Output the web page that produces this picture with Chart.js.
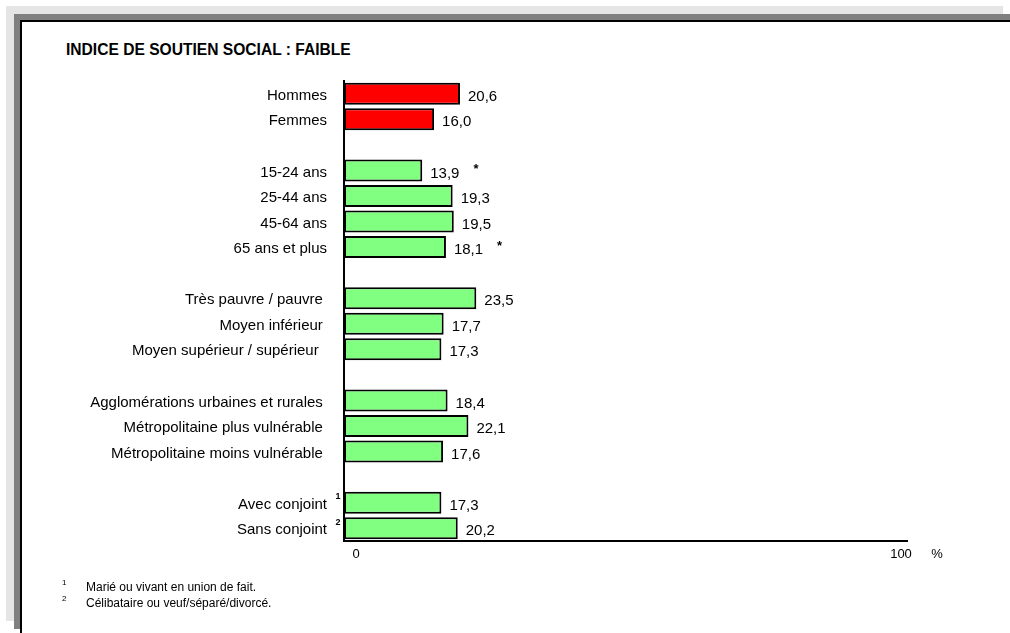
<!DOCTYPE html>
<html lang="fr">
<head>
    <meta charset="UTF-8">
    <title>Indice de soutien social : faible</title>
    <script src="https://cdn.jsdelivr.net/npm/chart.js"></script>
    <style>
        body {
            margin: 0;
            background-color: #ffffff;
            font-family: 'Liberation Sans', Arial, sans-serif;
            width: 1010px;
            height: 633px;
            overflow: hidden;
            position: relative;
        }
        .ombre-claire { position: absolute; left: 6px; top: 6px; width: 997px; height: 615px; background: #e5e5e5; }
        .ombre-foncee { position: absolute; left: 14px; top: 14px; width: 1000px; height: 615px; background: #808080; }
        .cadre { position: absolute; left: 20px; top: 20px; width: 1000px; height: 630px; background: #fff; border-top: 2px solid #000; border-left: 2px solid #000; }
        .titre { position: absolute; left: 66px; top: 41px; font-weight: bold; font-size: 15.6px; line-height: 18px; color: #000; }
        .note { position: absolute; left: 86px; font-size: 12px; line-height: 14px; color: #000; }
        .appel { position: absolute; left: 62px; font-size: 8px; line-height: 10px; color: #000; }
        canvas { position: absolute; left: 0; top: 0; }
    </style>
</head>
<body>
    <div class="ombre-claire"></div>
    <div class="ombre-foncee"></div>
    <div class="cadre"></div>
    <div class="titre">INDICE DE SOUTIEN SOCIAL : FAIBLE</div>

    <canvas id="graphique" width="1010" height="633"></canvas>

    <div class="appel" style="top: 578px;">1</div>
    <div class="note" style="top: 580px;">Marié ou vivant en union de fait.</div>
    <div class="appel" style="top: 594px;">2</div>
    <div class="note" style="top: 596px;">Célibataire ou veuf/séparé/divorcé.</div>

    <script>
        // Catégories (les chaînes vides sont les lignes de séparation)
        const categories = [
            'Hommes', 'Femmes', '',
            '15-24 ans', '25-44 ans', '45-64 ans', '65 ans et plus', '',
            'Très pauvre / pauvre ', 'Moyen inférieur ', 'Moyen supérieur / supérieur  ', '',
            'Agglomérations urbaines et rurales ', 'Métropolitaine plus vulnérable ', 'Métropolitaine moins vulnérable ', '',
            'Avec conjoint', 'Sans conjoint'
        ];
        const valeurs = [
            20.6, 16.0, null,
            13.9, 19.3, 19.5, 18.1, null,
            23.5, 17.7, 17.3, null,
            18.4, 22.1, 17.6, null,
            17.3, 20.2
        ];
        // astérisque : coefficient de variation élevé
        const asterisques = ['', '', '', '*', '', '', '*', '', '', '', '', '', '', '', '', '', '', ''];
        const appels = ['', '', '', '', '', '', '', '', '', '', '', '', '', '', '', '', '1', '2'];
        const categoriesSexe = ['Hommes', 'Femmes'];
        const ticksX = [0, 100];
        const uniteX = '%';

        const couleurs = categories.map(c => categoriesSexe.includes(c) ? '#ff0000' : '#80ff80');
        const formatFr = v => v.toFixed(1).replace('.', ',');

        Chart.defaults.font.family = "'Liberation Sans', Arial, sans-serif";
        Chart.defaults.font.size = 15;
        Chart.defaults.color = '#000';

        const etiquettes = {
            id: 'etiquettes',
            afterDatasetsDraw(chart) {
                const ctx = chart.ctx;
                const meta = chart.getDatasetMeta(0);
                const echelleY = chart.scales.y;
                ctx.save();
                ctx.fillStyle = '#000';
                ctx.textBaseline = 'middle';

                // libellés des catégories
                ctx.font = "15px 'Liberation Sans', Arial, sans-serif";
                ctx.textAlign = 'right';
                categories.forEach((c, i) => {
                    if (c) ctx.fillText(c, chart.chartArea.left - 17, echelleY.getPixelForValue(i) + 2);
                });

                meta.data.forEach((bar, i) => {
                    const v = valeurs[i];
                    if (v === null) return;
                    ctx.font = "15px 'Liberation Sans', Arial, sans-serif";
                    ctx.textAlign = 'left';
                    const texte = formatFr(v);
                    ctx.fillText(texte, bar.x + 8, bar.y + 3);
                    if (asterisques[i]) {
                        const w = ctx.measureText(texte).width;
                        ctx.font = "bold 13px 'Liberation Sans', Arial, sans-serif";
                        ctx.fillText(asterisques[i], bar.x + 8 + w + 14, bar.y - 1);
                    }
                    if (appels[i]) {
                        ctx.font = "bold 9px 'Liberation Sans', Arial, sans-serif";
                        ctx.textAlign = 'center';
                        ctx.fillText(appels[i], chart.chartArea.left - 6, bar.y - 6);
                    }
                });

                // étiquettes de l'axe horizontal
                const x = chart.scales.x;
                const y = chart.chartArea.bottom + 13;
                ctx.font = "13px 'Liberation Sans', Arial, sans-serif";
                ctx.textAlign = 'center';
                ctx.fillText(String(ticksX[0]), x.getPixelForValue(ticksX[0]) + 12, y);
                ctx.fillText(String(ticksX[1]), x.getPixelForValue(ticksX[1]) - 6, y);
                ctx.fillText(uniteX, x.getPixelForValue(ticksX[1]) + 30, y);
                ctx.restore();
            }
        };

        new Chart(document.getElementById('graphique'), {
            type: 'bar',
            data: {
                labels: categories,
                datasets: [{
                    data: valeurs,
                    backgroundColor: couleurs,
                    borderColor: '#000',
                    borderWidth: 2,
                    borderSkipped: false,
                    categoryPercentage: 1,
                    barPercentage: 0.86
                }]
            },
            options: {
                indexAxis: 'y',
                responsive: false,
                animation: false,
                layout: { padding: { left: 0, top: 81, right: 103, bottom: 92 } },
                plugins: {
                    legend: { display: false },
                    tooltip: { enabled: false }
                },
                scales: {
                    x: {
                        min: ticksX[0],
                        max: ticksX[1],
                        grid: { display: false, drawTicks: false },
                        border: { display: true, color: '#000', width: 2 },
                        ticks: { display: false },
                        afterFit(scale) { scale.height = 0; }
                    },
                    y: {
                        grid: { display: false, drawTicks: false },
                        border: { display: true, color: '#000', width: 2 },
                        ticks: { display: false },
                        afterFit(scale) { scale.width = 344; }
                    }
                }
            },
            plugins: [etiquettes]
        });
    </script>
</body>
</html>
